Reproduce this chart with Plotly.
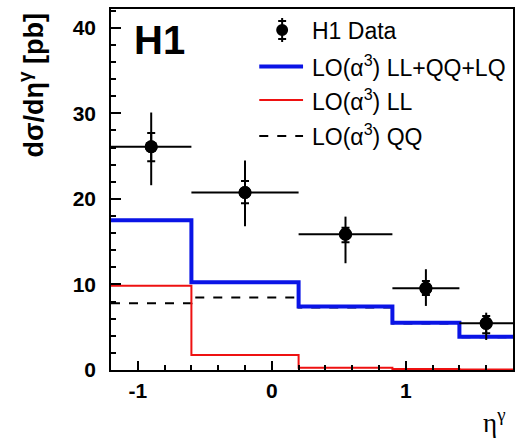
import plotly.graph_objects as go

# Photon pseudorapidity binning
bin_edges = [-1.2, -0.6, 0.2, 0.9, 1.4, 1.8]
eta_centers = [-0.9, -0.2, 0.55, 1.15, 1.6]

# H1 measured cross section [pb] with statistical and total uncertainties
data_xsec = [26.1, 20.75, 15.87, 9.55, 5.46]
stat_up = [1.6, 1.35, 0.77, 0.86, 0.86]
stat_down = [1.7, 1.25, 0.94, 0.78, 1.17]
tot_up = [4.0, 3.75, 2.06, 2.23, 1.24]
tot_down = [4.5, 3.95, 3.39, 2.06, 1.95]

# LO(alpha^3) predictions per bin [pb]
pred_total = [17.5, 10.27, 7.41, 5.52, 3.88]
pred_ll = [9.84, 1.76, 0.27, 0.12, 0.06]
pred_qq = [7.8, 8.47, 7.3, 5.45, 3.82]

FONT = "Liberation Sans"


def step(values):
    return values + [values[-1]]


x_left = [c - lo for c, lo in zip(eta_centers, bin_edges[:-1])]
x_right = [hi - c for c, hi in zip(eta_centers, bin_edges[1:])]

fig = go.Figure()

fig.add_trace(go.Scatter(
    x=bin_edges, y=step(pred_qq), mode="lines", line_shape="hv",
    line=dict(color="black", width=2, dash="dash"), showlegend=False))
fig.add_trace(go.Scatter(
    x=bin_edges, y=step(pred_ll), mode="lines", line_shape="hv",
    line=dict(color="#ee1111", width=2), showlegend=False))
fig.add_trace(go.Scatter(
    x=bin_edges, y=step(pred_total), mode="lines", line_shape="hv",
    line=dict(color="#0a14e6", width=4), showlegend=False))

# total uncertainty (no caps) plus bin width
fig.add_trace(go.Scatter(
    x=eta_centers, y=data_xsec, mode="markers",
    marker=dict(color="black", size=13),
    error_y=dict(type="data", symmetric=False, array=tot_up, arrayminus=tot_down,
                 color="black", thickness=2, width=0),
    error_x=dict(type="data", symmetric=False, array=x_right, arrayminus=x_left,
                 color="black", thickness=2, width=0),
    showlegend=False))
# statistical uncertainty shown with short caps
fig.add_trace(go.Scatter(
    x=eta_centers, y=data_xsec, mode="markers",
    marker=dict(color="black", size=13),
    error_y=dict(type="data", symmetric=False, array=stat_up, arrayminus=stat_down,
                 color="black", thickness=2, width=4),
    showlegend=False))

W, H = 516, 438
L, R, T, B = 111, 1, 9, 68
pw, ph = W - L - R, H - T - B


def px(xp):
    return (xp - L) / pw


def py(yp):
    return (H - B - yp) / ph


shapes = []
annotations = []

# Legend drawn in paper coordinates
legend_rows = [
    ("H1 Data", 31),
    ("LO(α<sup>3</sup>) LL+QQ+LQ", 66),
    ("LO(α<sup>3</sup>) LL", 100),
    ("LO(α<sup>3</sup>) QQ", 135),
]
for text, yp in legend_rows:
    annotations.append(dict(
        x=px(311), y=py(yp), xref="paper", yref="paper", text=text,
        showarrow=False, xanchor="left", yanchor="middle",
        font=dict(family=FONT, size=23, color="black")))

mx, my = 283, 30
shapes += [
    dict(type="line", xref="paper", yref="paper", x0=px(mx), x1=px(mx),
         y0=py(18), y1=py(42), line=dict(color="black", width=2)),
    dict(type="line", xref="paper", yref="paper", x0=px(mx - 4), x1=px(mx + 4),
         y0=py(21), y1=py(21), line=dict(color="black", width=2)),
    dict(type="line", xref="paper", yref="paper", x0=px(mx - 4), x1=px(mx + 4),
         y0=py(39), y1=py(39), line=dict(color="black", width=2)),
    dict(type="circle", xref="paper", yref="paper", x0=px(mx - 6), x1=px(mx + 6),
         y0=py(my + 6), y1=py(my - 6), fillcolor="black", line=dict(color="black", width=0)),
    dict(type="line", xref="paper", yref="paper", x0=px(260), x1=px(304),
         y0=py(66.5), y1=py(66.5), line=dict(color="#0a14e6", width=4)),
    dict(type="line", xref="paper", yref="paper", x0=px(260), x1=px(304),
         y0=py(100), y1=py(100), line=dict(color="#ee1111", width=2)),
    dict(type="line", xref="paper", yref="paper", x0=px(260), x1=px(304),
         y0=py(136), y1=py(136), line=dict(color="black", width=2, dash="dash")),
]

annotations += [
    dict(x=px(132), y=py(40), xref="paper", yref="paper", text="<b>H1</b>",
         showarrow=False, xanchor="left", yanchor="middle",
         font=dict(family=FONT, size=40, color="black")),
    dict(x=px(31), y=py(85), xref="paper", yref="paper",
         text="<b>dσ/dη<sup>γ</sup> [pb]</b>", textangle=-90,
         showarrow=False, xanchor="center", yanchor="middle",
         font=dict(family=FONT, size=27, color="black")),
    dict(x=px(508), y=py(421), xref="paper", yref="paper",
         text="η<sup>γ</sup>", showarrow=False, xanchor="right", yanchor="middle",
         borderpad=0, font=dict(family="Liberation Serif", size=27, color="black")),
]

axis_common = dict(
    showline=True, linecolor="black", linewidth=1.5, mirror=True,
    ticks="inside", tickcolor="black", tickwidth=1.5, showgrid=False,
    zeroline=False, tickfont=dict(family=FONT, size=21, color="black"),
)

fig.update_layout(
    width=W, height=H,
    margin=dict(l=L, r=R, t=T, b=B),
    paper_bgcolor="white", plot_bgcolor="white",
    shapes=shapes, annotations=annotations,
    xaxis=dict(range=[-1.2, 1.8], tickvals=[-1, 0, 1],
               ticktext=["<b>-1</b>", "<b>0</b>", "<b>1</b>"],
               ticklen=9, ticklabelstandoff=1,
               minor=dict(dtick=0.2, tick0=0, ticklen=5, ticks="inside",
                          tickcolor="black", tickwidth=1.5),
               **axis_common),
    yaxis=dict(range=[0, 42.2], tickvals=[0, 10, 20, 30, 40],
               ticktext=["<b>0</b>", "<b>10</b>", "<b>20</b>", "<b>30</b>", "<b>40</b>"],
               ticklen=10, ticklabelstandoff=9,
               minor=dict(dtick=2, tick0=0, ticklen=5, ticks="inside",
                          tickcolor="black", tickwidth=1.5),
               **axis_common),
)

fig.write_html("out.html")
